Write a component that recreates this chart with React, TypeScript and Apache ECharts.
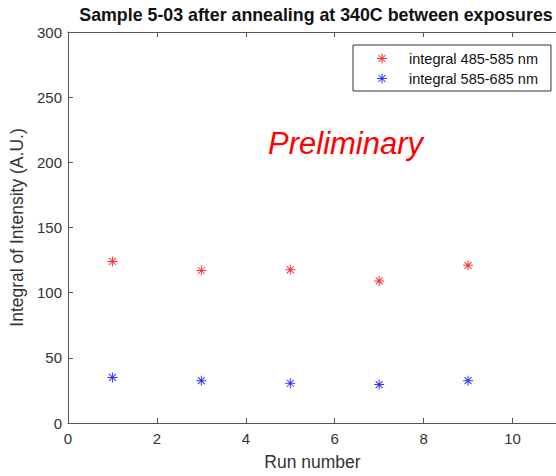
import React, { useEffect, useRef } from "react";
import * as echarts from "echarts";

const runs = [1, 3, 5, 7, 9];
const integral485 = [124, 117, 117.5, 109, 121];
const integral585 = [35, 32.5, 30.5, 29.5, 32.5];
const seriesNames = ["integral 485-585 nm", "integral 585-685 nm"];
const titleText = "Sample 5-03 after annealing at 340C between exposures";
const xName = "Run number";
const yName = "Integral of Intensity (A.U.)";
const watermark = "Preliminary";

const STAR =
  "path://M9,0L11,0L11,20L9,20Z M0,9L20,9L20,11L0,11Z M2.3,3.7L3.7,2.3L17.7,16.3L16.3,17.7Z M16.3,2.3L17.7,3.7L3.7,17.7L2.3,16.3Z";

export default function App() {
  const ref = useRef<HTMLDivElement>(null);
  useEffect(() => {
    if (!ref.current) return;
    const chart = echarts.init(ref.current, undefined, { renderer: "svg" });
    const axisColor = "#555";
    const labelColor = "#333";
    const font = "'Liberation Sans', Arial, sans-serif";
    chart.setOption({
      animation: false,
      backgroundColor: "#fff",
      textStyle: { fontFamily: font },
      grid: { left: 68, top: 32, bottom: 49, right: 43, containLabel: false },
      xAxis: [
        {
          type: "value",
          min: 0,
          max: 11,
          interval: 2,
          name: xName,
          nameLocation: "middle",
          nameGap: 30,
          nameTextStyle: { fontSize: 17.5, color: labelColor, fontFamily: font },
          axisLine: { show: true, lineStyle: { color: axisColor, width: 1 } },
          axisTick: { show: true, inside: true, length: 5, lineStyle: { color: axisColor } },
          axisLabel: {
            fontSize: 15,
            color: labelColor,
            margin: 8,
            fontFamily: font,
            formatter: (v: number) => (v > 10 ? "" : String(v)),
          },
          splitLine: { show: false },
        },
        {
          type: "value",
          position: "top",
          min: 0,
          max: 11,
          interval: 2,
          axisLine: { show: true, lineStyle: { color: axisColor, width: 1 } },
          axisTick: { show: true, inside: true, length: 5, lineStyle: { color: axisColor } },
          axisLabel: { show: false },
          splitLine: { show: false },
        },
      ],
      yAxis: {
        type: "value",
        min: 0,
        max: 300,
        interval: 50,
        name: yName,
        nameLocation: "middle",
        nameGap: 38,
        nameTextStyle: { fontSize: 17.5, color: labelColor, fontFamily: font },
        axisLine: { show: true, lineStyle: { color: axisColor, width: 1 } },
        axisTick: { show: true, inside: true, length: 5, lineStyle: { color: axisColor } },
        axisLabel: { fontSize: 15, color: labelColor, margin: 6, fontFamily: font },
        splitLine: { show: false },
      },
      legend: {
        orient: "vertical",
        left: 353,
        top: 45,
        backgroundColor: "#fff",
        borderColor: "#333",
        borderWidth: 1,
        padding: [6, 13, 5, 24],
        itemWidth: 10,
        itemHeight: 10,
        itemGap: 5,
        textStyle: { fontSize: 14.5, color: "#111", padding: [0, 0, 0, 17], fontFamily: font },
        data: [
          { name: seriesNames[0], icon: STAR },
          { name: seriesNames[1], icon: STAR },
        ],
      },
      graphic: [
        {
          type: "text",
          x: 316,
          y: 6,
          style: {
            text: titleText,
            fill: "#111",
            align: "center",
            verticalAlign: "top",
            font: "bold 17.8px 'Liberation Sans', Arial, sans-serif",
          },
        },
        {
          type: "text",
          x: 268,
          y: 128,
          style: {
            text: watermark,
            fill: "#ff0000",
            verticalAlign: "top",
            font: "italic 31px 'Liberation Sans', Arial, sans-serif",
          },
        },
      ],
      series: [
        {
          name: seriesNames[0],
          type: "scatter",
          symbol: STAR,
          symbolSize: 10,
          itemStyle: { color: "#ff0000" },
          data: runs.map((r, i) => [r, integral485[i]]),
        },
        {
          name: seriesNames[1],
          type: "scatter",
          symbol: STAR,
          symbolSize: 10,
          itemStyle: { color: "#0000ff" },
          data: runs.map((r, i) => [r, integral585[i]]),
        },
      ],
    });
    return () => chart.dispose();
  }, []);
  return (
    <div
      style={{ position: "absolute", left: 0, top: 0, width: 556, height: 476, overflow: "hidden" }}
    >
      <div ref={ref} style={{ width: 600, height: 476 }} />
    </div>
  );
}
